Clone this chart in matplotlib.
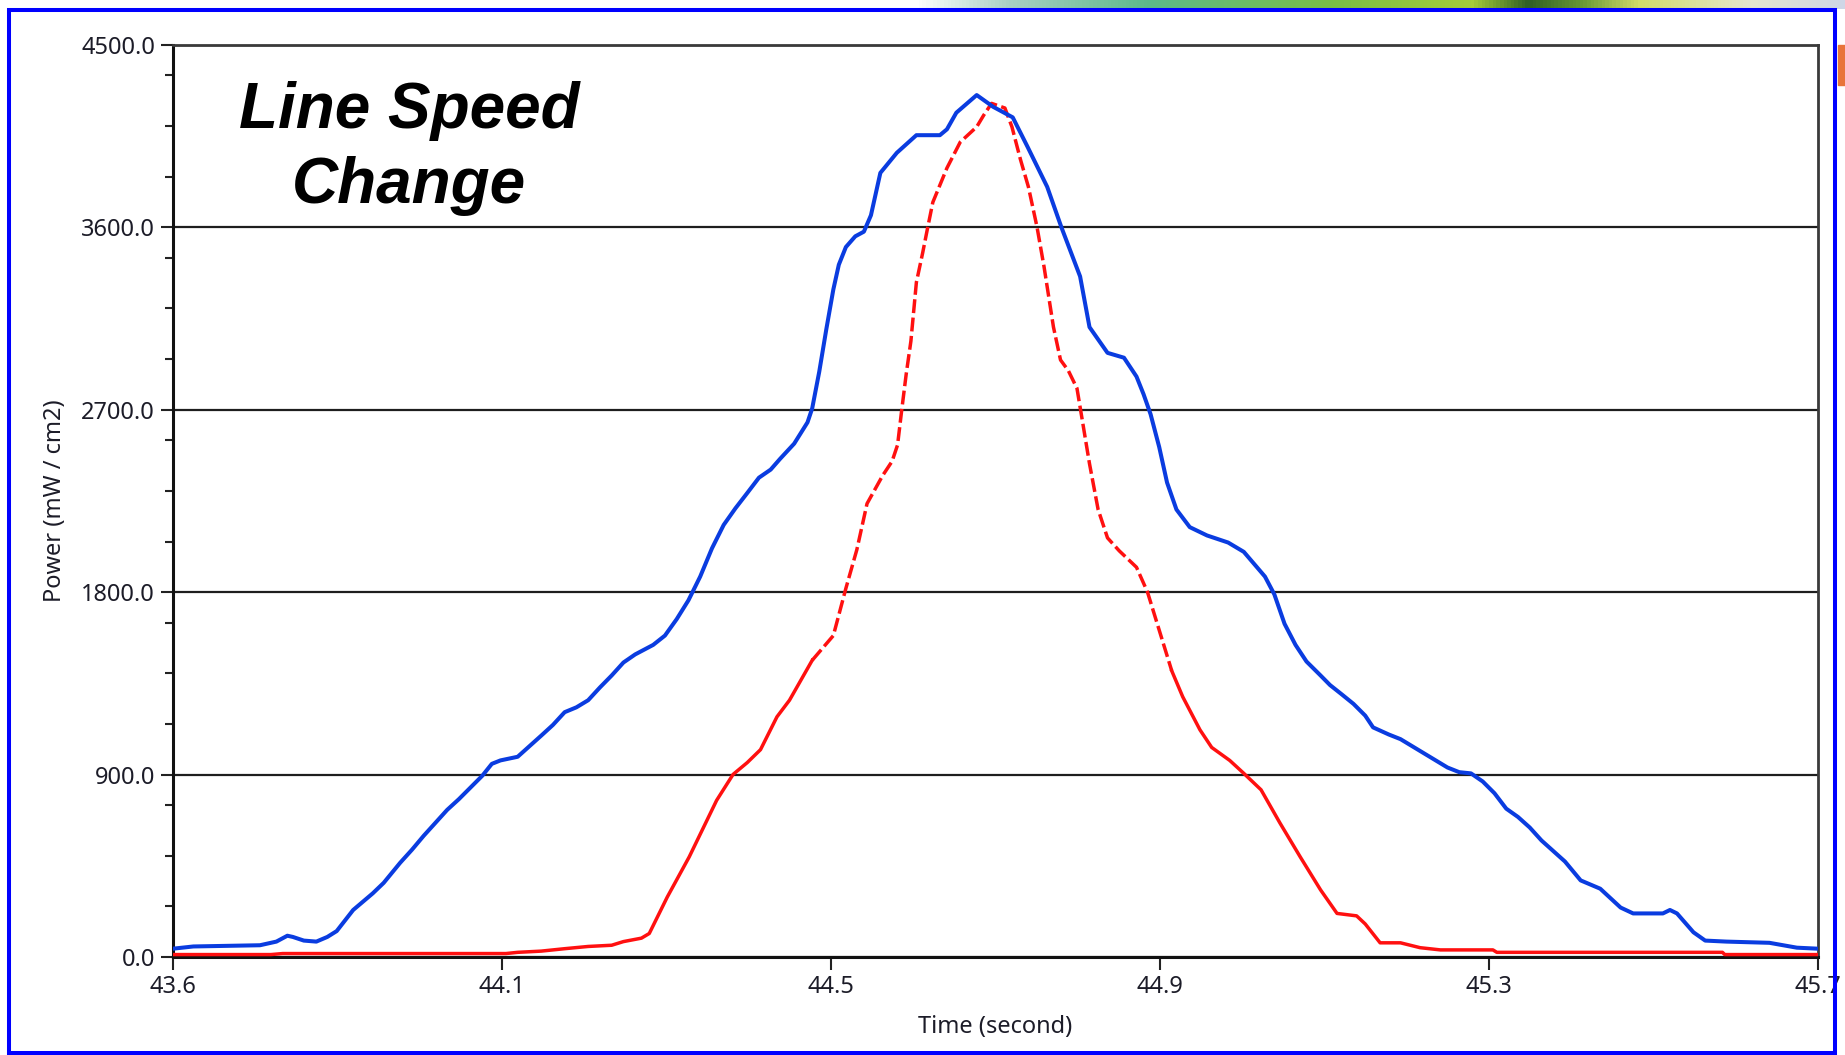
import numpy as np
import matplotlib
matplotlib.use("Agg")
import matplotlib.pyplot as plt
from matplotlib.patches import Rectangle
from matplotlib.colors import LinearSegmentedColormap

plt.rcParams["font.family"] = ["Noto Sans", "DejaVu Sans"]

# time axis (seconds) and tick labels as printed on the chart
x_min, x_max = 43.64, 45.74
x_labels = ["43.6", "44.1", "44.5", "44.9", "45.3", "45.7"]
y_major = [0, 900, 1800, 2700, 3600, 4500]

# blue trace (mW / cm2)
blue_t = [43.640, 43.666, 43.751, 43.772, 43.786, 43.793, 43.807, 43.823, 43.837, 43.849,
          43.870, 43.895, 43.909, 43.930, 43.945, 43.960, 43.975, 43.990, 44.005, 44.020,
          44.035, 44.047, 44.058, 44.080, 44.095, 44.110, 44.125, 44.140, 44.155, 44.170,
          44.185, 44.200, 44.215, 44.230, 44.253, 44.268, 44.283, 44.298, 44.313, 44.328,
          44.343, 44.358, 44.373, 44.388, 44.403, 44.415, 44.433, 44.450, 44.456, 44.465,
          44.474, 44.483, 44.490, 44.499, 44.511, 44.522, 44.531, 44.543, 44.564, 44.589,
          44.619, 44.628, 44.640, 44.666, 44.687, 44.712, 44.731, 44.756, 44.774, 44.798,
          44.810, 44.833, 44.854, 44.870, 44.879, 44.888, 44.899, 44.909, 44.921, 44.938,
          44.960, 44.987, 45.007, 45.034, 45.046, 45.059, 45.073, 45.087, 45.105, 45.117,
          45.132, 45.147, 45.162, 45.172, 45.192, 45.207, 45.222, 45.237, 45.252, 45.267,
          45.282, 45.297, 45.312, 45.327, 45.342, 45.357, 45.372, 45.387, 45.402, 45.417,
          45.437, 45.462, 45.488, 45.504, 45.542, 45.551, 45.560, 45.581, 45.596, 45.623,
          45.678, 45.713, 45.740]
blue_v = [41, 52, 58, 76, 105, 99, 81, 76, 99, 128,
          232, 314, 366, 465, 529, 598, 662, 726, 779, 837,
          895, 953, 970, 988, 1040, 1092, 1145, 1208, 1232, 1267,
          1330, 1389, 1453, 1493, 1540, 1586, 1667, 1760, 1877, 2016,
          2132, 2214, 2289, 2365, 2405, 2458, 2533, 2638, 2707, 2888,
          3097, 3294, 3416, 3503, 3556, 3579, 3660, 3869, 3968, 4055,
          4055, 4084, 4166, 4253, 4195, 4143, 3997, 3800, 3602, 3358,
          3108, 2981, 2957, 2864, 2777, 2678, 2516, 2341, 2208, 2121,
          2080, 2045, 1999, 1877, 1789, 1644, 1540, 1458, 1389, 1342,
          1296, 1249, 1191, 1133, 1098, 1075, 1040, 1005, 970, 935,
          912, 906, 866, 808, 732, 691, 639, 575, 523, 471,
          378, 337, 244, 215, 215, 232, 215, 122, 81, 76,
          70, 46, 41]

# red trace (mW / cm2)
red_t = [43.640, 43.765, 43.780, 44.065, 44.080, 44.110, 44.140, 44.170, 44.200, 44.215,
         44.238, 44.248, 44.271, 44.299, 44.334, 44.355, 44.373, 44.390, 44.411, 44.427,
         44.456, 44.483, 44.499, 44.513, 44.526, 44.546, 44.558, 44.565, 44.570, 44.576,
         44.582, 44.589, 44.597, 44.603, 44.610, 44.628, 44.645, 44.666, 44.675, 44.685,
         44.702, 44.711, 44.722, 44.732, 44.743, 44.752, 44.764, 44.773, 44.783, 44.794,
         44.801, 44.810, 44.821, 44.833, 44.848, 44.870, 44.884, 44.902, 44.915, 44.929,
         44.951, 44.966, 44.989, 45.007, 45.029, 45.053, 45.079, 45.105, 45.126, 45.151,
         45.162, 45.181, 45.207, 45.232, 45.258, 45.325, 45.330, 45.618, 45.621, 45.740]
red_v = [12, 12, 17, 17, 23, 29, 41, 52, 58, 76,
         93, 116, 296, 494, 773, 901, 959, 1023, 1185, 1267,
         1464, 1586, 1819, 2010, 2237, 2376, 2446, 2527, 2690, 2876,
         3039, 3329, 3474, 3591, 3724, 3893, 4021, 4096, 4154, 4212,
         4189, 4096, 3933, 3800, 3602, 3405, 3108, 2946, 2893, 2806,
         2644, 2434, 2208, 2068, 2004, 1923, 1801, 1575, 1412, 1284,
         1121, 1034, 970, 906, 825, 662, 494, 331, 215, 203,
         163, 70, 70, 46, 35, 35, 23, 23, 12, 12]

W, H = 1845, 1055
fig = plt.figure(figsize=(W / 100, H / 100), dpi=100)
ax = fig.add_axes([173 / W, 98 / H, 1645 / W, 912 / H])

# red: solid at the feet, dashed over the steep upper part
red_t = np.array(red_t)
red_v = np.array(red_v)
hi = np.where(red_v >= 1500)[0]
i0, i1 = hi[0] - 1, hi[-1] + 1
red_kw = dict(color="#ff1010", lw=2.5, zorder=3)
ax.plot(red_t[:i0 + 1], red_v[:i0 + 1], **red_kw)
ax.plot(red_t[i0:i1 + 1], red_v[i0:i1 + 1], linestyle=(0, (4, 1.3)), **red_kw)
ax.plot(red_t[i1:], red_v[i1:], **red_kw)

ax.plot(blue_t, blue_v, color="#0a3ce0", lw=2.9, zorder=4)

ax.set_xlim(x_min, x_max)
ax.set_ylim(0, 4500)
ax.set_xticks(np.linspace(x_min, x_max, len(x_labels)))
ax.set_xticklabels(x_labels)
ax.set_yticks(y_major)
ax.set_yticklabels([f"{v:.1f}" for v in y_major])
ax.set_yticks([m + k for m in y_major[:-1] for k in (250, 500, 750)], minor=True)

ax.yaxis.grid(True, which="major", color="#1e1e1e", lw=1.6, zorder=1)
ax.tick_params(axis="both", which="major", length=9, width=1.5, color="#222222",
               labelsize=17, labelcolor="#1c1c28", pad=4)
ax.tick_params(axis="y", which="minor", length=6, width=1.5, color="#222222")

for side in ["left", "bottom"]:
    ax.spines[side].set_linewidth(2.2)
    ax.spines[side].set_color("#111111")
for side in ["top", "right"]:
    ax.spines[side].set_linewidth(2.0)
    ax.spines[side].set_color("#3a3a3a")

ax.set_xlabel("Time (second)", fontsize=17, color="#1c1c28", va="center")
ax.xaxis.set_label_coords(0.5, -70 / 912)
ax.set_ylabel("Power (mW / cm2)", fontsize=17, color="#1c1c28", va="center")
ax.yaxis.set_label_coords(-118 / 1645, 0.5)

ax.text(0.1435, 0.887, "Line Speed\nChange", transform=ax.transAxes,
        ha="center", va="center", fontsize=46, fontweight="bold",
        fontstyle="italic", family="Liberation Sans", linespacing=1.32, zorder=5)

# slide decoration: swoosh strip on top, orange blob on the right, blue frame
strip = LinearSegmentedColormap.from_list("strip", [
    (0.0, "#ffffff"), (0.1, "#a8d0c4"), (0.25, "#5cb98a"), (0.45, "#79be45"),
    (0.6, "#a5cd3a"), (0.66, "#2f5e25"), (0.72, "#6a9a35"), (0.78, "#d2dc6a"),
    (0.9, "#e4e6cf"), (1.0, "#cfd6e6")])
sax = fig.add_axes([915 / W, 1 - 9 / H, 930 / W, 9 / H])
sax.imshow(np.linspace(0, 1, 256)[None, :], aspect="auto", cmap=strip)
sax.axis("off")

fig.patches.append(Rectangle((1838 / W, 1 - 85 / H), 7 / W, 40 / H,
                             transform=fig.transFigure, color="#e8743a", zorder=0))
fig.patches.append(Rectangle((9 / W, 2 / H), 1826 / W, 1043 / H,
                             transform=fig.transFigure, fill=False,
                             edgecolor="#0000ff", lw=2.9, zorder=10))

fig.savefig("out.png", dpi=100)
